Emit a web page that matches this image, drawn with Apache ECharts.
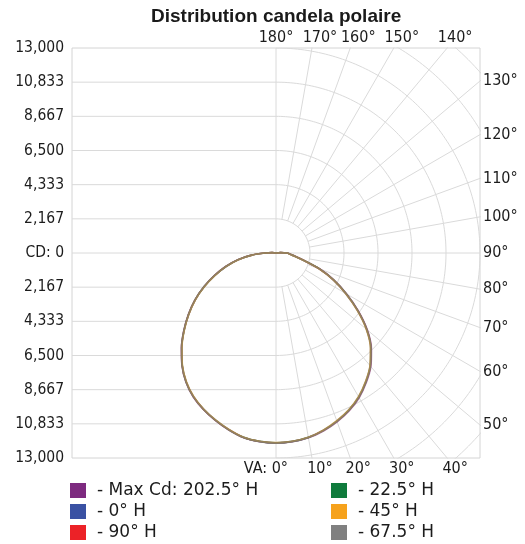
<!DOCTYPE html>
<html><head><meta charset="utf-8">
<script src="https://cdn.jsdelivr.net/npm/echarts@6/dist/echarts.min.js"></script>
<style>html,body{margin:0;padding:0;background:#fff}#c{width:525px;height:544px}</style>
</head><body><div id="c"></div>
<script>
// ---------------- data ----------------
const titleText = 'Distribution candela polaire';
const maxCd = 13000;             // outer value of the candela scale
const cdSteps = 6;               // number of rings / ticks between 0 and maxCd
const topAngles = [180, 170, 160, 150, 140];
const rightAngles = [130, 120, 110, 100, 90, 80, 70, 60, 50];
const bottomAngles = [0, 10, 20, 30, 40];
const vaAngles = [0, 5, 10, 15, 20, 25, 30, 35, 40, 45, 50, 55, 60, 65, 70, 75, 80, 85, 90, 95, 100];

const seriesNames = ['Max Cd: 202.5° H', '0° H', '90° H', '22.5° H', '45° H', '67.5° H'];
const seriesColors = ['#7d2a7f', '#3a51a3', '#ec2227', '#0f7b3c', '#f6a21c', '#808080'];

// candela on the right half (plane H) and on the left half (plane H+180)
const maxCdRight = [12050,12010,11900,11680,11390,11040,10600,10030,9400,8600,7600,6400,5200,4080,2980,1880,1270,910,730,300,0];
const maxCdLeft  = [12050,12010,11890,11620,11300,10950,10540,10000,9320,8520,7670,6820,5970,5070,4170,3320,2470,1570,710,250,0];
const h0Right    = [12040,11990,11870,11640,11330,10980,10530,9960,9330,8520,7520,6320,5120,4020,2930,1840,1240,890,715,290,0];
const h0Left     = [12040,11990,11870,11590,11270,10920,10510,9970,9290,8490,7640,6790,5940,5040,4140,3290,2440,1540,695,245,0];
const h90Right   = [12050,12000,11880,11660,11360,11010,10560,9990,9360,8560,7560,6360,5160,4060,2960,1860,1260,900,720,300,0];
const h90Left    = [12050,12000,11880,11610,11290,10940,10530,9990,9310,8510,7660,6810,5960,5060,4160,3310,2460,1560,700,250,0];
const h225Right  = [12045,11995,11875,11645,11345,10995,10545,9975,9345,8545,7545,6345,5145,4045,2945,1845,1245,895,718,298,0];
const h225Left   = [12045,11995,11875,11600,11280,10930,10520,9980,9300,8500,7650,6800,5950,5050,4150,3300,2450,1550,698,248,0];
const h45Right   = [12030,11985,11865,11630,11320,10970,10520,9950,9320,8510,7510,6310,5110,4010,2920,1830,1235,885,712,292,0];
const h45Left    = [12030,11985,11865,11585,11265,10915,10500,9960,9280,8480,7630,6780,5930,5030,4130,3280,2435,1535,692,242,0];
const h675Right  = [12055,12005,11890,11670,11370,11020,10570,10000,9370,8570,7570,6370,5170,4070,2970,1870,1265,905,725,302,0];
const h675Left   = [12055,12005,11885,11615,11295,10945,10535,9995,9315,8515,7665,6815,5965,5065,4165,3315,2465,1565,705,252,0];

const rightSets = [maxCdRight, h0Right, h90Right, h225Right, h45Right, h675Right];
const leftSets  = [maxCdLeft,  h0Left,  h90Left,  h225Left,  h45Left,  h675Left];

// ---------------- chart ----------------
const ringStep = maxCd / cdSteps;
const rad = a => a * Math.PI / 180;
const labelFont = 'DejaVu Sans Condensed, DejaVu Sans, sans-serif';
const legendFont = 'DejaVu Sans, sans-serif';
const textColor = '#1c1c1c';
const gridStyle = { color: '#dadada', width: 1 };

function gridLine(points) {
  return { type: 'line', data: points, symbol: 'none', silent: true, animation: false,
           lineStyle: gridStyle, z: 1, clip: true, legendHoverLink: false, tooltip: { show: false } };
}
const gridSeries = [];
for (let k = -cdSteps + 1; k <= cdSteps - 1; k++) {
  if (k === 0) continue;
  gridSeries.push(gridLine([[-maxCd, k * ringStep], [0, k * ringStep]]));
}
gridSeries.push(gridLine([[-maxCd, 0], [maxCd, 0]]));
gridSeries.push(gridLine([[0, -maxCd], [0, maxCd]]));
for (let k = 1; k <= cdSteps + 2; k++) {
  const r = k * ringStep, pts = [];
  for (let a = 0; a <= 180; a += 1) pts.push([r * Math.sin(rad(a)), r * Math.cos(rad(a))]);
  gridSeries.push(gridLine(pts));
}
for (let a = 10; a < 180; a += 10) {
  if (a === 90) continue;
  const r0 = ringStep, r1 = maxCd * 3;
  gridSeries.push(gridLine([[r0 * Math.sin(rad(a)), -r0 * Math.cos(rad(a))],
                            [r1 * Math.sin(rad(a)), -r1 * Math.cos(rad(a))]]));
}

function curve(right, left) {
  const pts = [];
  for (let i = vaAngles.length - 1; i >= 0; i--) {
    const t = rad(vaAngles[i]);
    pts.push([-left[i] * Math.sin(t), -left[i] * Math.cos(t)]);
  }
  for (let i = 1; i < vaAngles.length; i++) {
    const t = rad(vaAngles[i]);
    pts.push([right[i] * Math.sin(t), -right[i] * Math.cos(t)]);
  }
  return pts;
}
const dataSeries = seriesNames.map((n, i) => ({
  name: n, type: 'line', data: curve(rightSets[i], leftSets[i]), symbol: 'none',
  smooth: 0.25, color: seriesColors[i], lineStyle: { color: seriesColors[i], width: 1.7, opacity: 0.55 },
  z: 3, animation: false, clip: true
}));

// legend: two columns of three rows, one legend block per entry
const legendCols = [70, 331];
const legendRows = [482, 503, 524];
const legends = seriesNames.map((n, i) => ({
  data: [n], left: legendCols[Math.floor(i / 3)], top: legendRows[i % 3],
  orient: 'horizontal', padding: 0, itemWidth: 16, itemHeight: 15, icon: 'rect',
  selectedMode: false, formatter: '- {name}',
  textStyle: { fontSize: 17, lineHeight: 15, fontFamily: legendFont, color: textColor, padding: [0, 0, 0, 6] }
}));

const chart = echarts.init(document.getElementById('c'), null, { renderer: 'canvas' });
chart.setOption({
  animation: false,
  backgroundColor: '#fff',
  title: { text: titleText, left: 151, top: 7, padding: 0,
           textStyle: { fontFamily: 'Liberation Sans, Arial, sans-serif', fontWeight: 'bold', fontSize: 19, color: '#1a1a1a' } },
  legend: legends,
  grid: { left: 72, top: 48, right: 45, bottom: 86, show: true, borderColor: '#d4d4d4', borderWidth: 1, containLabel: false },
  xAxis: { type: 'value', min: -maxCd, max: maxCd, axisLabel: { show: false }, axisLine: { show: false },
           axisTick: { show: false }, splitLine: { show: false } },
  yAxis: { type: 'value', min: -maxCd, max: maxCd, interval: ringStep,
           axisLine: { show: false }, axisTick: { show: false }, splitLine: { show: false },
           axisLabel: { margin: 8, fontSize: 15.5, fontFamily: labelFont, color: textColor,
             formatter: v => { const a = Math.round(Math.abs(v)); return a === 0 ? 'CD: 0' : a.toLocaleString('en-US'); } } },
  series: gridSeries.concat(dataSeries)
});

// angle labels placed through the chart's own scale
const toPx = p => chart.convertToPixel({ xAxisIndex: 0, yAxisIndex: 0 }, p);
const graphics = [];
const txt = (x, y, s, align, vAlign) => ({ type: 'text', x: x, y: y, silent: true, z: 10,
  style: { text: s, fill: textColor, font: '16px ' + labelFont, textAlign: align, textVerticalAlign: vAlign } });
topAngles.forEach(a => {
  const t = rad(a), tt = maxCd / (-Math.cos(t));
  const p = toPx([tt * Math.sin(t), maxCd]);
  graphics.push(txt(p[0] + (a === 180 ? 0 : 8), p[1] - 2, a + '°', 'center', 'bottom'));
});
rightAngles.forEach(a => {
  const t = rad(a), tt = maxCd / Math.sin(t);
  const p = toPx([maxCd, -tt * Math.cos(t)]);
  graphics.push(txt(p[0] + 3, p[1], a + '°', 'left', 'middle'));
});
bottomAngles.forEach(a => {
  const t = rad(a), tt = maxCd / Math.cos(t);
  const p = toPx([tt * Math.sin(t), -maxCd]);
  if (a === 0) graphics.push(txt(p[0] + 12, p[1] + 3, 'VA: 0°', 'right', 'top'));
  else graphics.push(txt(p[0] + 8, p[1] + 3, a + '°', 'center', 'top'));
});
chart.setOption({ graphic: graphics });
</script>
</body></html>
